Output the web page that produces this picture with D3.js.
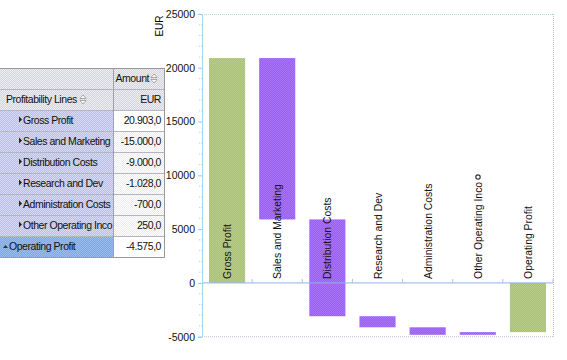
<!DOCTYPE html>
<html>
<head>
<meta charset="utf-8">
<script src="https://cdn.jsdelivr.net/npm/d3@7/dist/d3.min.js"></script>
<style>
html,body{margin:0;padding:0;background:#fff;}
svg{display:block;font-family:Arial,"Liberation Sans",sans-serif;}
.tt{font-size:10.5px;letter-spacing:-0.45px;fill:#111;}
</style>
</head>
<body>
<svg id="chart" width="567" height="360"></svg>
<script>
const categories = ["Gross Profit","Sales and Marketing","Distribution Costs","Research and Dev","Administration Costs","Other Operating Inco","Operating Profit"];
const amounts = [20903,-15000,-9000,-1028,-700,250,-4575];
const isTotal = [true,false,false,false,false,false,true];
const yTicks = [-5000,0,5000,10000,15000,20000,25000];
const currency = "EUR";

(function(){
const svg = d3.select("#chart");

// ---------- table ----------
const fmt = d3.formatLocale({decimal:",",thousands:".",grouping:[3],currency:["",""],minus:"-"}).format(",.1f");
const defs = svg.append("defs");
const tbl = svg.append("g");
const tX0 = 0, tX1 = 113, tX2 = 165, tY0 = 68, rowH = 21;
function checker(id, c1, c2){
  const p = defs.append("pattern").attr("id",id).attr("width",2).attr("height",2).attr("patternUnits","userSpaceOnUse");
  p.append("rect").attr("width",2).attr("height",2).attr("fill",c1);
  p.append("rect").attr("width",1).attr("height",1).attr("fill",c2);
  p.append("rect").attr("x",1).attr("y",1).attr("width",1).attr("height",1).attr("fill",c2);
}
checker("hdr","#d4d4dc","#eeeef2");
checker("lab","#b8bcf0","#d8daf8");
checker("val","#ececec","#ffffff");
checker("tot","#7fa6e8","#9cbcf0");
checker("grn","#a6c276","#bccb8c");
checker("pur","#9a5ef8","#a874fc");

tbl.append("rect").attr("x",tX0).attr("y",tY0).attr("width",tX2-tX0).attr("height",rowH*2).attr("fill","url(#hdr)");
tbl.append("text").attr("class","tt").attr("x",149).attr("y",tY0+14).attr("text-anchor","end").text("Amount");
tbl.append("text").attr("class","tt").attr("x",6).attr("y",tY0+rowH+14).text("Profitability Lines");
tbl.append("text").attr("class","tt").attr("x",161).attr("y",tY0+rowH+14).attr("text-anchor","end").text(currency);
function sortIcon(x0,y0){
  tbl.append("path").attr("d",`M${x0},${y0-1} l3,-3.5 l3,3.5 z M${x0},${y0+1} l3,3.5 l3,-3.5 z`).attr("fill","#fff").attr("stroke","#888").attr("stroke-width",0.7);
}
sortIcon(151,tY0+10.5);
sortIcon(80,tY0+rowH+10.5);

categories.forEach((c,i)=>{
  const ry = tY0 + rowH*(2+i);
  const tot = isTotal[i] && i>0;
  tbl.append("rect").attr("x",tX0).attr("y",ry).attr("width",tX1-tX0).attr("height",rowH).attr("fill",tot?"url(#tot)":"url(#lab)");
  tbl.append("rect").attr("x",tX1).attr("y",ry).attr("width",tX2-tX1).attr("height",rowH).attr("fill",i===0||tot?"#fff":"url(#val)");
  if(tot){
    tbl.append("path").attr("d",`M3,${ry+12} l2.5,-3 l2.5,3 z`).attr("fill","#333");
    tbl.append("text").attr("class","tt").attr("x",9).attr("y",ry+14).text(c);
  } else {
    tbl.append("path").attr("d",`M19,${ry+6.5} l3,3 l-3,3 z`).attr("fill","#222");
    tbl.append("text").attr("class","tt").attr("x",23).attr("y",ry+14).text(c);
  }
  tbl.append("text").attr("class","tt").attr("x",161).attr("y",ry+14).attr("text-anchor","end").text(fmt(amounts[i]));
});
for(let r=0;r<=2+categories.length;r++){
  tbl.append("line").attr("x1",tX0).attr("x2",tX2).attr("y1",tY0+r*rowH+0.5).attr("y2",tY0+r*rowH+0.5)
    .attr("stroke", r===0||r===2+categories.length ? "#9a9a9a" : "#b4b4c4").attr("stroke-width",1);
}
tbl.append("line").attr("x1",tX1+0.5).attr("x2",tX1+0.5).attr("y1",tY0).attr("y2",tY0+rowH*(2+categories.length)).attr("stroke","#a0a0a8");
tbl.append("line").attr("x1",tX2-0.5).attr("x2",tX2-0.5).attr("y1",tY0).attr("y2",tY0+rowH*(2+categories.length)).attr("stroke","#9a9a9a");

// ---------- chart ----------
const pL = 202, pR = 553, pT = 14, pB = 336.7;
const y = d3.scaleLinear().domain([-5000,25000]).range([pB, pT]);
const x = d3.scaleBand().domain(categories).range([pL, pR]).paddingInner(0.28).paddingOuter(0.14);

let running = 0;
const bars = categories.map((c,i)=>{
  let y0, y1;
  if(isTotal[i]){ y0 = 0; y1 = amounts[i]; running = amounts[i]; }
  else { y0 = running; y1 = running + amounts[i]; running = y1; }
  return {c, y0, y1, total:isTotal[i]};
});

const g = svg.append("g");
g.append("line").attr("x1",pL).attr("x2",pR).attr("y1",pT+0.5).attr("y2",pT+0.5).attr("stroke","#a8dce8").attr("stroke-dasharray","1,1");
g.append("line").attr("x1",pR+0.5).attr("x2",pR+0.5).attr("y1",pT).attr("y2",pB).attr("stroke","#c0c0c8").attr("stroke-dasharray","1,1");
g.append("line").attr("x1",pL).attr("x2",pR).attr("y1",pB).attr("y2",pB).attr("stroke","#c0c0d0").attr("stroke-dasharray","1,1");

g.selectAll("rect.bar").data(bars).join("rect").attr("class","bar")
  .attr("x",d=>x(d.c)).attr("width",x.bandwidth())
  .attr("y",d=>y(Math.max(d.y0,d.y1))).attr("height",d=>Math.max(1.5,Math.abs(y(d.y0)-y(d.y1))))
  .attr("fill",d=>d.total?"url(#grn)":"url(#pur)");

g.append("line").attr("x1",pL).attr("x2",pR).attr("y1",y(0)).attr("y2",y(0)).attr("stroke","#8cb4ec").attr("stroke-width",1);
const step = x.step();
categories.forEach((c)=>{
  const bx = x(c) - x.paddingOuter()*step + step;
  g.append("line").attr("x1",bx).attr("x2",bx).attr("y1",y(0)).attr("y2",y(0)-4).attr("stroke","#a8c8ec");
});

g.selectAll("text.cat").data(categories).join("text").attr("class","cat")
  .attr("transform",d=>`translate(${x(d)+x.bandwidth()/2+4},${y(0)-4}) rotate(-90)`)
  .attr("font-size",10.4).attr("fill","#111").text(d=>d);

const yAxis = d3.axisLeft(y).tickValues(yTicks).tickSize(4).tickPadding(3).tickFormat(d=>String(d));
const ax = svg.append("g").attr("transform",`translate(${pL},0)`).call(yAxis);
ax.select(".domain").attr("stroke","#a8d4ec");
ax.selectAll(".tick line").attr("stroke","#9cc8e4");
ax.selectAll(".tick text").attr("font-size",10.5).attr("font-family","Arial,'Liberation Sans',sans-serif").attr("fill","#111");
ax.selectAll("line.minor").data(y.ticks(30).filter(v=>v%5000!==0)).join("line").attr("class","minor")
  .attr("x1",-3).attr("x2",0).attr("y1",d=>y(d)).attr("y2",d=>y(d)).attr("stroke","#b8d8ec").attr("stroke-dasharray","1,1");

svg.append("text").attr("transform",`translate(163,26) rotate(-90)`).attr("text-anchor","middle").attr("font-size",10).text(currency);

svg.append("circle").attr("cx",478).attr("cy",177).attr("r",2.2).attr("fill","none").attr("stroke","#333").attr("stroke-width",1.2);
})();
</script>
</body>
</html>
